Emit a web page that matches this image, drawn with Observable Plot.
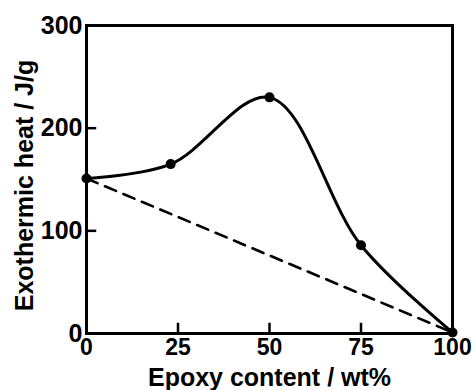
<!DOCTYPE html>
<html>
<head>
<meta charset="utf-8">
<script src="https://cdn.jsdelivr.net/npm/d3@7"></script>
<script src="https://cdn.jsdelivr.net/npm/@observablehq/plot@0.6"></script>
<style>
body { margin: 0; background: #fff; }
svg.chart text { font-family: "Liberation Sans", Arial, sans-serif; font-weight: bold; fill: #000; }
svg.chart [aria-label="x-axis tick label"] text { font-size: 23px; }
svg.chart [aria-label="y-axis tick label"] text { font-size: 25px; }
svg.chart .title text { font-size: 25px; }
</style>
</head>
<body>
<div id="chart"></div>
<script>
const epoxy = [0, 23, 50, 75, 100];
const heat = [151, 165, 230, 86, 1];
const xTicks = [0, 25, 50, 75, 100];
const yTicks = [0, 100, 200, 300];
const xTitle = "Epoxy content / wt%";
const yTitle = "Exothermic heat / J/g";

const pts = epoxy.map((x, i) => ({x, y: heat[i]}));
const dashed = [pts[0], pts[pts.length - 1]];

const chart = Plot.plot({
  className: "chart",
  width: 473,
  height: 390,
  marginLeft: 86,
  marginRight: 21,
  marginTop: 25,
  marginBottom: 57,
  style: {background: "#fff", color: "#000"},
  x: {domain: [0, 100]},
  y: {domain: [0, 300]},
  marks: [
    Plot.axisX({ticks: xTicks, tickSize: 0, tickPadding: 5, label: null}),
    Plot.axisY({ticks: yTicks, tickSize: 0, tickPadding: 4, label: null}),
    Plot.ruleX(xTicks.slice(1, -1), {y1: 0, y2: 10, stroke: "#000", strokeWidth: 2.5}),
    Plot.ruleY(yTicks.slice(1, -1), {x1: 0, x2: 2.8, stroke: "#000", strokeWidth: 2.5}),
    Plot.line(dashed, {x: "x", y: "y", stroke: "#000", strokeWidth: 2.6, strokeDasharray: "12,8"}),
    Plot.line(pts, {x: "x", y: "y", curve: "catmull-rom", stroke: "#000", strokeWidth: 3}),
    Plot.dot(pts, {x: "x", y: "y", r: 5, fill: "#000"}),
    Plot.frame({stroke: "#000", strokeWidth: 3}),
    Plot.text([xTitle], {frameAnchor: "bottom", lineAnchor: "bottom", dy: 52, className: "title"}),
    Plot.text([yTitle], {frameAnchor: "left", textAnchor: "middle", dx: -62, dy: 6, rotate: -90, className: "title"})
  ]
});
document.getElementById("chart").appendChild(chart);
</script>
</body>
</html>
